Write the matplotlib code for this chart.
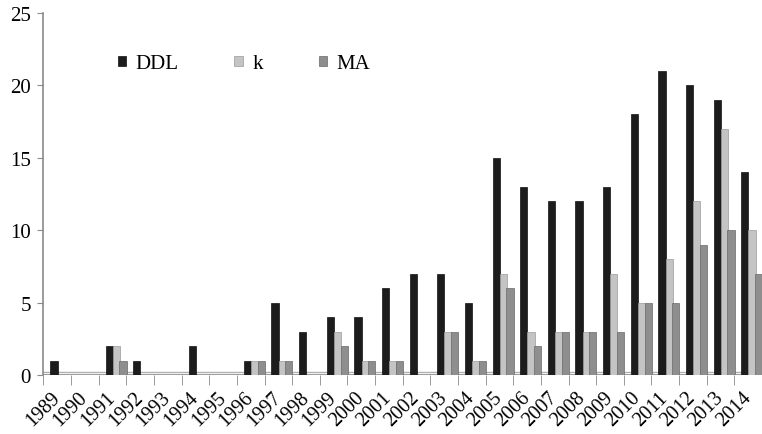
import numpy as np
import matplotlib.pyplot as plt

plt.rcParams['font.family'] = ['Liberation Serif', 'DejaVu Serif']

years = [str(y) for y in range(1989, 2015)]
ddl = [1, 0, 2, 1, 0, 2, 0, 1, 5, 3, 4, 4, 6, 7, 7, 5, 15, 13, 12, 12, 13, 18, 21, 20, 19, 14]
k = [0, 0, 2, 0, 0, 0, 0, 1, 1, 0, 3, 1, 1, 0, 3, 1, 7, 3, 3, 3, 7, 5, 8, 12, 17, 10]
ma = [0, 0, 1, 0, 0, 0, 0, 1, 1, 0, 2, 1, 1, 0, 3, 1, 6, 2, 3, 3, 3, 5, 5, 9, 10, 7]

x = np.arange(len(years))
w = 0.26

fig = plt.figure(figsize=(7.62, 4.35), dpi=100)
ax = fig.add_axes([0.057, 0.1356, 0.943, 0.832])

ax.bar(x - 0.12, ddl, w, color='#1c1c1c', edgecolor='#111111', linewidth=0.5, label='DDL', zorder=3)
ax.bar(x + 0.14, k, w, color='#c4c4c4', edgecolor='#9a9a9a', linewidth=0.5, label='k', zorder=3)
ax.bar(x + 0.38, ma, w, color='#8e8e8e', edgecolor='#6a6a6a', linewidth=0.5, label='MA', zorder=3)

# floor of the pseudo-3D chart
ax.axhline(0, color='#8a8a8a', linewidth=1.2, zorder=2)
ax.axhline(0.22, color='#b0b0b0', linewidth=1.0, zorder=2)

ax.set_xlim(-0.5, len(years) - 0.5)
ax.set_ylim(0, 25)
ax.set_yticks(range(0, 26, 5))

ax.set_xticks(x)
ax.set_xticklabels(years, rotation=45, ha='right', va='center',
                   rotation_mode='anchor', fontsize=14.5)
ax.tick_params(axis='x', length=0, pad=14)
ax.set_xticks(np.arange(-0.5, len(years), 1), minor=True)
ax.tick_params(axis='x', which='minor', length=7, color='#8a8a8a', direction='out')
ax.tick_params(axis='y', labelsize=15, length=4, color='#8a8a8a', pad=5)

for s in ['top', 'right', 'bottom']:
    ax.spines[s].set_visible(False)
ax.spines['left'].set_color('#8a8a8a')
ax.spines['left'].set_linewidth(1.2)

ax.legend(loc='upper left', bbox_to_anchor=(0.077, 0.938), ncol=3, frameon=False,
          fontsize=15, handlelength=0.4, handleheight=0.4, handletextpad=0.45,
          columnspacing=2.7)

fig.savefig('out.png', dpi=100)
